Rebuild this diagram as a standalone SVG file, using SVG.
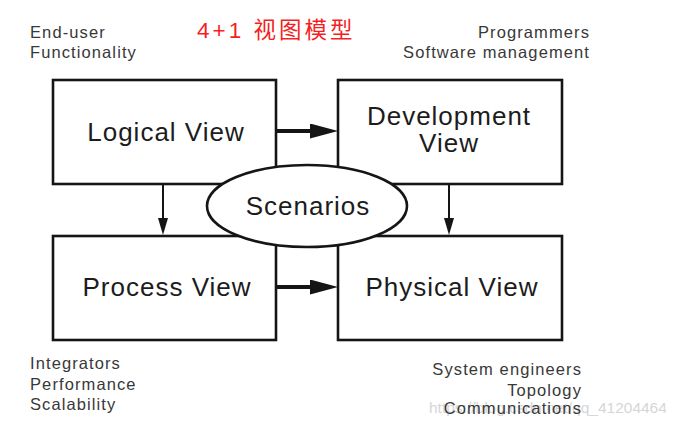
<svg xmlns="http://www.w3.org/2000/svg" width="677" height="423" viewBox="0 0 677 423">
  <style>
    .box { fill: #ffffff; stroke: #151515; stroke-width: 2.6; }
    .big { font-family: "Liberation Sans", Arial, sans-serif; font-size: 26px; letter-spacing: 1px; fill: #1c1c1c; text-anchor: middle; }
    .small { font-family: "Liberation Sans", Arial, sans-serif; font-size: 16.5px; letter-spacing: 1.1px; fill: #383838; }
    .title { font-family: "Liberation Sans", "Noto Sans CJK SC", sans-serif; font-size: 22.5px; letter-spacing: 3px; fill: #f41f1f; }
    .wm { font-family: "Liberation Sans", Arial, sans-serif; font-size: 15.5px; fill: #d6d6d6; }
    .thick { stroke: #151515; stroke-width: 4; fill: none; }
    .thin { stroke: #151515; stroke-width: 2; fill: none; }
  </style>
  <defs>
    <marker id="headH" markerUnits="userSpaceOnUse" markerWidth="28" markerHeight="15" refX="8" refY="7.5" orient="auto">
      <path d="M0,0 L28,7.5 L0,15 z" fill="#151515"/>
    </marker>
    <marker id="headV" markerUnits="userSpaceOnUse" markerWidth="17" markerHeight="10" refX="7" refY="5" orient="auto">
      <path d="M0,0 L17,5 L0,10 z" fill="#151515"/>
    </marker>
  </defs>
  <rect width="677" height="423" fill="#ffffff"/>

  <g id="annotations">
    <text class="title" x="197" y="38">4+1 视图模型</text>
    <text class="small" x="30" y="38">End-user</text>
    <text class="small" x="30" y="58">Functionality</text>
    <text class="small" x="590" y="38" text-anchor="end">Programmers</text>
    <text class="small" x="590" y="58" text-anchor="end">Software management</text>
    <text class="small" x="30" y="369">Integrators</text>
    <text class="small" x="30" y="390">Performance</text>
    <text class="small" x="30" y="410">Scalability</text>
    <text class="wm" x="429" y="413">https://blog.csdn.net/qq_41204464</text>
    <text class="small" x="582" y="375" text-anchor="end">System engineers</text>
    <text class="small" x="582" y="396" text-anchor="end">Topology</text>
    <text class="small" x="582" y="414" text-anchor="end">Communications</text>
  </g>

  <g id="logical">
    <rect class="box" x="53" y="80" width="223" height="104"/>
    <text class="big" x="166" y="141">Logical View</text>
  </g>
  <g id="development">
    <rect class="box" x="338" y="80" width="224" height="104"/>
    <text class="big" x="449" y="125">Development</text>
    <text class="big" x="449" y="152">View</text>
  </g>
  <g id="process">
    <rect class="box" x="53" y="236" width="223" height="104"/>
    <text class="big" x="167" y="296">Process View</text>
  </g>
  <g id="physical">
    <rect class="box" x="338" y="236" width="224" height="104"/>
    <text class="big" x="452" y="296">Physical View</text>
  </g>

  <g id="connectors">
    <line class="thick" x1="277" y1="131" x2="318" y2="131" marker-end="url(#headH)"/>
    <line class="thick" x1="277" y1="287" x2="318" y2="287" marker-end="url(#headH)"/>
    <line class="thin" x1="163" y1="185" x2="163" y2="225" marker-end="url(#headV)"/>
    <line class="thin" x1="449" y1="185" x2="449" y2="225" marker-end="url(#headV)"/>
  </g>

  <g id="scenarios">
    <ellipse class="box" cx="307" cy="206" rx="100" ry="41"/>
    <text class="big" x="308" y="215">Scenarios</text>
  </g>
</svg>
